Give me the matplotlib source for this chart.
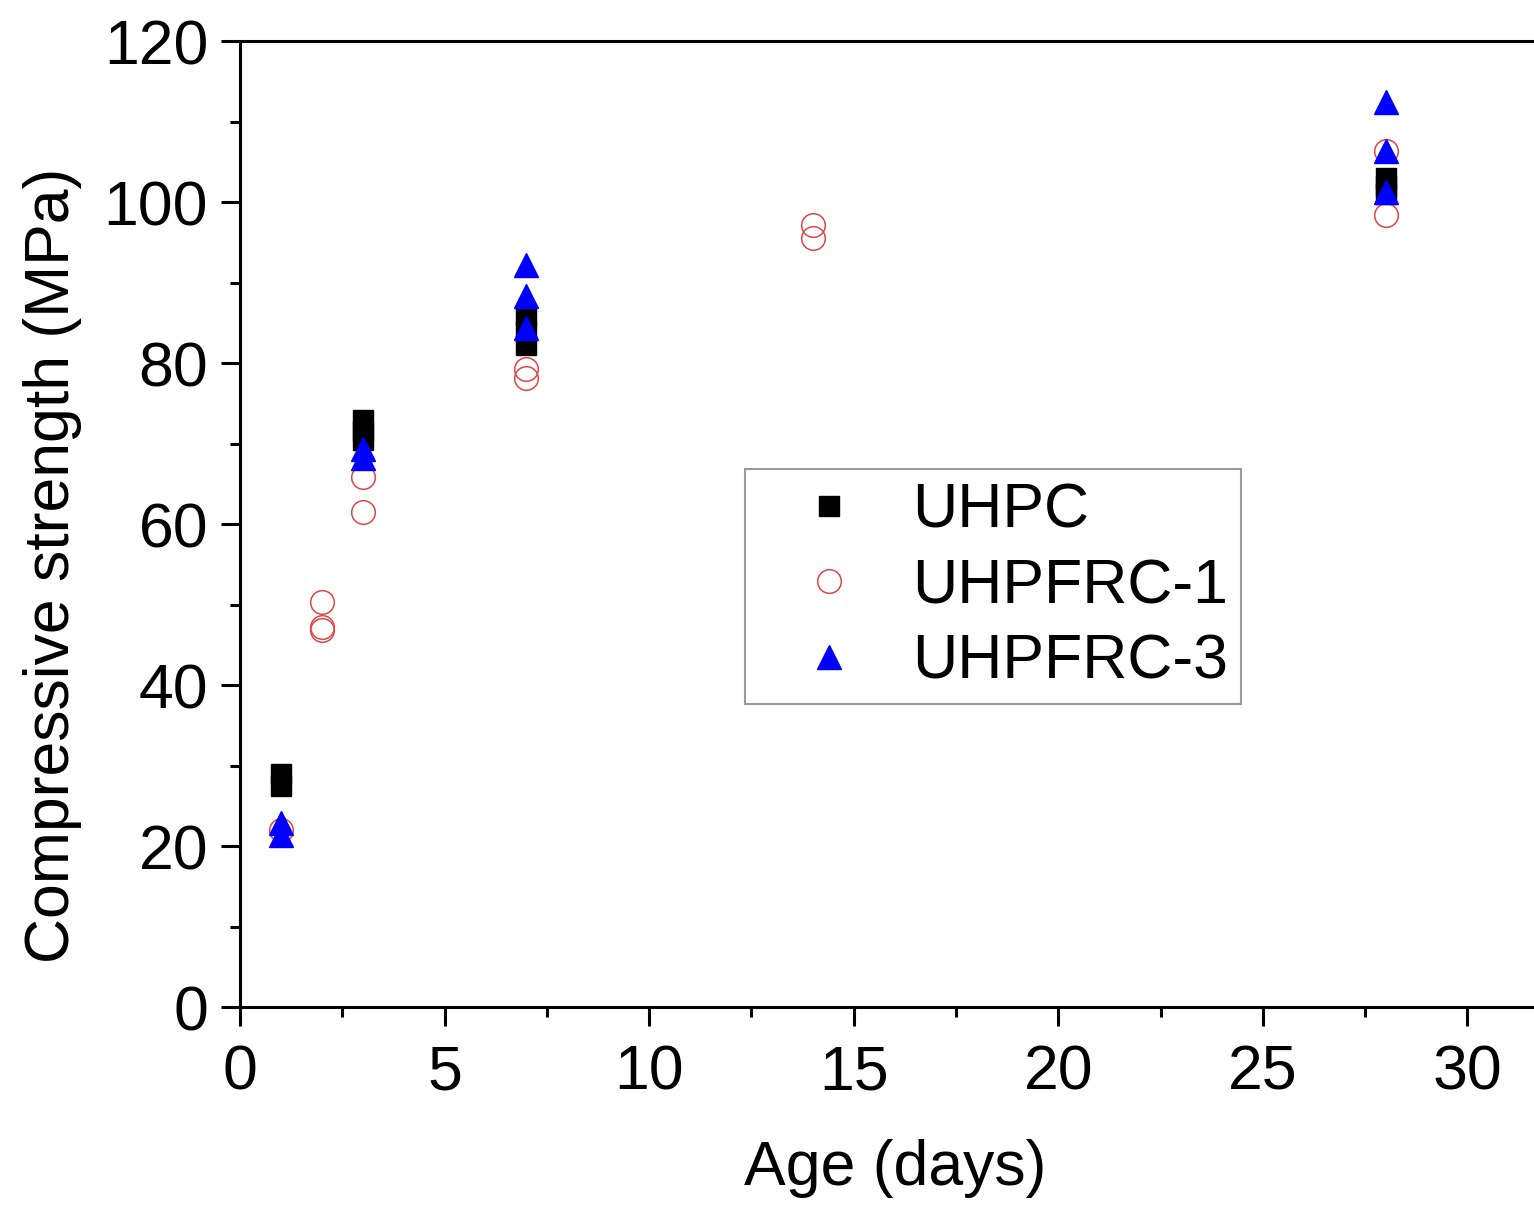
import matplotlib
matplotlib.use('Agg')
import matplotlib.pyplot as plt
from matplotlib.ticker import MultipleLocator

plt.rcParams['font.family'] = ['Liberation Sans', 'DejaVu Sans']

# compressive strength test results, age in days vs MPa
uhpc_age = [1, 1, 3, 3, 3, 7, 7, 7, 28, 28, 28]
uhpc_mpa = [29.0, 27.4, 72.9, 71.6, 70.4, 86.0, 84.0, 82.2, 103.0, 102.0, 101.0]

frc1_age = [1, 2, 2, 2, 3, 3, 7, 7, 14, 14, 28, 28]
frc1_mpa = [22.0, 50.3, 47.2, 46.8, 65.8, 61.5, 79.2, 78.2, 97.1, 95.5, 106.3, 98.4]

frc3_age = [1, 1, 3, 3, 7, 7, 7, 28, 28, 28]
frc3_mpa = [22.8, 21.4, 69.3, 68.2, 92.2, 88.3, 84.4, 112.4, 106.3, 101.2]

fig = plt.figure(figsize=(15.34, 12.07), dpi=100)
ax = fig.add_axes([0.1565, 0.1657, 0.8435, 0.8003])

ax.plot(uhpc_age, uhpc_mpa, 's', color='black', markersize=15, label='UHPC', zorder=3)
ax.plot(frc1_age, frc1_mpa, 'o', markerfacecolor='none', markeredgecolor='#e04545',
        markeredgewidth=1.1, markersize=17, label='UHPFRC-1', zorder=4)
ax.plot(frc3_age, frc3_mpa, '^', color='#0000ff', markersize=17, label='UHPFRC-3', zorder=5)

ax.set_xlim(0, 31.63)
ax.set_ylim(0, 120)
ax.xaxis.set_major_locator(MultipleLocator(5))
ax.xaxis.set_minor_locator(MultipleLocator(2.5))
ax.yaxis.set_major_locator(MultipleLocator(20))
ax.yaxis.set_minor_locator(MultipleLocator(10))

for side in ['left', 'bottom', 'top']:
    ax.spines[side].set_linewidth(2.2)
ax.spines['right'].set_visible(False)
ax.tick_params(which='major', direction='out', length=14, width=2.2, labelsize=45)
ax.tick_params(axis='x', which='major', pad=12)
ax.tick_params(axis='y', which='major', pad=9)
ax.tick_params(which='minor', direction='out', length=7, width=2.2)

ax.set_xlabel('Age (days)', fontsize=45)
ax.set_ylabel('Compressive strength (MPa)', fontsize=45)
ax.xaxis.set_label_coords(0.506, -0.137)
ax.yaxis.set_label_coords(-0.122, 0.4576)

leg = ax.legend(loc='upper left', bbox_to_anchor=(0.4857, 0.6114), bbox_transform=fig.transFigure,
                fontsize=45, frameon=True, fancybox=False, edgecolor='#808080',
                handlelength=2.29, handletextpad=0.19, borderpad=0.2, labelspacing=0.265,
                borderaxespad=0)
leg.get_frame().set_linewidth(1.5)

fig.savefig('out.png', dpi=100)
